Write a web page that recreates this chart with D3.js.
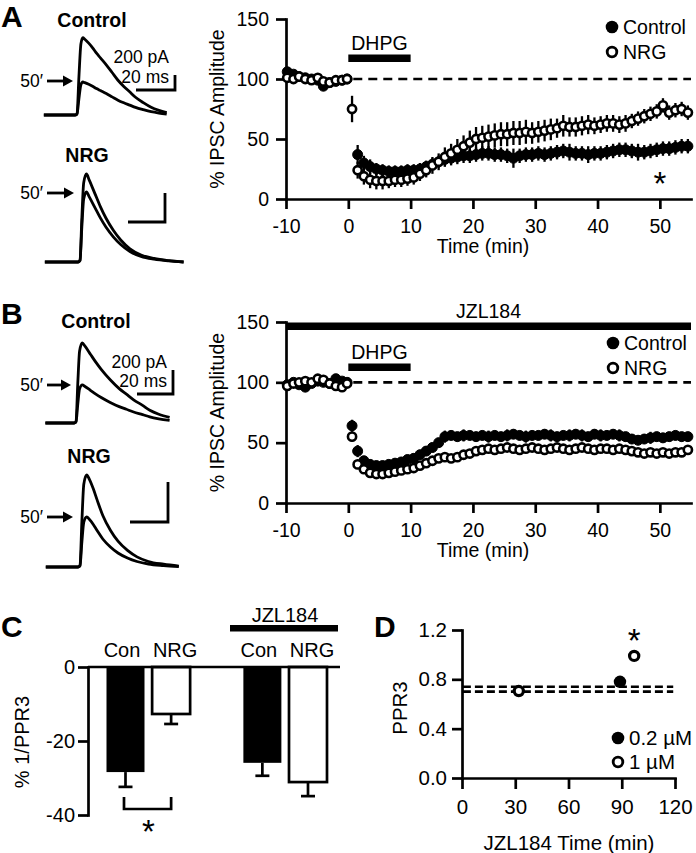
<!DOCTYPE html>
<html><head><meta charset="utf-8">
<script src="https://cdn.jsdelivr.net/npm/d3@7"></script>
<style>
body{margin:0;background:#fff}
svg{display:block;background:#fff}
text{font-family:"Liberation Sans",Arial,Helvetica,sans-serif;fill:#000}
</style>
</head><body>
<svg id="fig" width="696" height="853"></svg>
<script>
// ================= DATA =================
const timeTicks = [-10, 0, 10, 20, 30, 40, 50];
const ampTicks = [0, 50, 100, 150];

const sampleTimes = [-9.8,-8.8,-7.9,-6.9,-5.9,-4.9,-4.0,-3.0,-2.0,-1.0,-0.2,
  0.6,1.5,2.5,3.5,4.5,5.5,6.5,7.5,8.5,9.5,10.5,11.5,12.5,13.5,14.5,15.5,16.5,17.5,18.5,19.5,
  20.5,21.5,22.5,23.5,24.5,25.5,26.5,27.5,28.5,29.5,30.5,31.5,32.5,33.5,34.5,35.5,36.5,37.5,38.5,39.5,
  40.5,41.5,42.5,43.5,44.5,45.5,46.5,47.5,48.5,49.5,50.5,51.5,52.5,53.5,54.5];

// Panel A (% IPSC amplitude)
const ctrlA = [106,104,102,101,100,99,94,97,98,99,100, null,
  37,30,27,25,24,23,23,23,24,24, 25,27,29,31,33,34,35,36,36,37,
  38,38,37,37,36,34,36,37,37,38, 37,38,39,40,39,38,38,37,38,38,
  39,40,41,41,40,39,39,40,41,42, 42,43,44,44];
const ctrlASem = [3,3,2,3,3,3,4,3,3,2,2, null,
  8,6,6,5,5,5,5,5,5,5, 5,5,5,5,6,6,6,6,6,6,
  6,6,6,6,6,8,6,6,6,6, 6,6,6,6,7,6,6,7,6,6,
  6,6,6,6,6,7,6,6,6,6, 6,6,6,6];
const nrgA = [101,100,102,100,99,101,98,97,99,99,100, 75,
  24,19,16,15,15,15,16,16,17,18, 21,24,28,31,35,38,41,44,47,50,
  51,52,53,54,54,55,55,56,55,56, 57,58,59,61,60,60,61,62,61,62,
  63,63,62,63,65,67,69,71,73,78, 72,74,75,72];
const nrgASem = [3,2,3,2,3,3,2,3,2,2,2, 11,
  7,7,7,7,7,6,6,6,6,6, 6,6,7,7,8,8,9,9,10,10,
  10,10,10,10,10,10,10,10,9,9, 9,9,8,9,8,8,8,8,7,7,
  7,7,7,7,6,6,6,6,6,6, 6,6,6,6];

// Panel B (JZL184)
const ctrlB = [98,100,98,96,99,101,100,99,103,101,100, 64,
  43,35,32,31,31,32,33,34,36,37, 40,43,46,50,55,56,55,56,56,55,
  56,55,56,55,56,57,56,55,56,56, 57,56,55,56,56,57,56,55,57,56,
  56,57,56,55,53,52,53,54,55,54, 55,56,55,55];
const ctrlBSem = [3,3,3,3,3,3,3,3,3,3,3, 5,
  5,4,4,4,4,4,4,4,4,4, 4,4,4,4,5,4,4,5,4,4,
  4,5,4,4,5,4,4,5,4,4, 4,5,4,4,5,4,5,4,4,5,
  4,4,5,4,4,4,4,5,4,4, 4,4,4,4];
const nrgB = [97,99,100,101,100,103,102,99,97,96,99, 55,
  32,28,25,24,24,25,26,27,28,29, 31,33,35,37,38,37,38,40,41,43,
  44,45,44,45,46,45,44,45,46,45, 44,45,46,45,44,45,46,45,44,45,
  45,44,45,44,43,42,41,42,41,42, 41,42,42,44];
const nrgBSem = [3,3,3,3,3,3,3,3,3,3,3, 4,
  3,3,3,3,3,3,3,3,3,3, 3,3,3,3,3,3,3,3,3,3,
  3,3,3,3,3,3,3,3,3,3, 3,3,3,3,3,3,3,3,3,3,
  3,3,3,3,3,3,3,3,3,3, 3,3,3,3];

// Example IPSC traces: [ms from onset, fraction of peak]
const shapeACtrl = [[-17,0],[-1,0],[0,0.02],[1,0.5],[2,0.92],[3,1],[4,0.98],[6,0.93],[8,0.87],[10,0.8],[12,0.74],[15,0.65],[18,0.55],[21,0.45],[24,0.37],[27,0.3],[30,0.23],[34,0.16],[38,0.1],[42,0.06],[46,0.03]];
const shapeANrg = [[-19,0],[-1,0],[0,0.02],[1,0.5],[2,0.9],[3.5,1],[5,0.93],[8,0.78],[11,0.63],[14,0.5],[18,0.36],[22,0.25],[27,0.15],[33,0.08],[40,0.04],[48,0.015],[56,0]];
const shapeBCtrl = [[-17,0],[-1,0],[0,0.02],[1,0.5],[2,0.9],[3.5,1],[5,0.96],[8,0.86],[11,0.76],[14,0.67],[19,0.54],[24,0.43],[28,0.36],[32,0.29],[37,0.22],[41,0.16],[46,0.11],[52,0.07]];
const shapeBNrg = [[-18,0],[-1,0],[0,0.02],[1,0.5],[2,0.9],[3.5,1],[5,0.95],[7,0.85],[9,0.73],[12,0.56],[16,0.4],[20,0.28],[25,0.18],[30,0.11],[36,0.06],[44,0.03],[52,0.01]];
const peaksACtrl = [1030, 440];   // pA: baseline, 50'
const peaksANrg = [607, 483];
const peaksBCtrl = [667, 317];
const peaksBNrg = [460, 250];

// Panel C
const catsC = ["Con", "NRG", "Con", "NRG"];
const posC = [0, 1, 3, 4];
const valsC = [-28.4, -12.7, -25.9, -31.1];
const semC = [4.0, 2.7, 3.5, 3.8];
const ticksC = [0, -20, -40];

// Panel D
const ticksDx = [0, 30, 60, 90, 120];
const ticksDy = [0, 0.4, 0.8, 1.2];
const dFilled = [{t: 89, v: 0.78, s: 0.03}];
const dOpen = [{t: 32, v: 0.705, s: 0.02}, {t: 97, v: 0.99, s: 0.03}];
const dBaselines = [0.74, 0.70];

// ================= DRAW =================
const svg = d3.select("#fig");
const F = '"Liberation Sans", Arial, Helvetica, sans-serif';

function styleAxis(sel, fs) {
  sel.attr("font-family", F).attr("font-size", fs);
  sel.select(".domain").attr("stroke", "#000").attr("stroke-width", 2.7).attr("stroke-linecap", "square");
  sel.selectAll(".tick line").attr("stroke", "#000").attr("stroke-width", 2.7);
  sel.selectAll(".tick text").attr("fill", "#000");
}
function txt(x, y, s, fs, opts = {}) {
  const t = svg.append("text").attr("x", x).attr("y", y).text(s)
    .attr("font-size", fs).attr("text-anchor", opts.anchor || "start")
    .attr("font-weight", opts.bold ? "bold" : "normal");
  if (opts.rotate) t.attr("transform", `rotate(-90,${x},${y})`);
  return t;
}
function arrow(x0, x1, y) {
  svg.append("line").attr("x1", x0).attr("x2", x1 - 6).attr("y1", y).attr("y2", y)
    .attr("stroke", "#000").attr("stroke-width", 2.8);
  svg.append("path").attr("d", `M${x1},${y} L${x1 - 10},${y - 5.5} L${x1 - 10},${y + 5.5} Z`).attr("fill", "#000");
}

function drawTimeCourse(P) {
  const g = svg.append("g");
  const x = d3.scaleLinear().domain([-10, 55]).range([286, 691]);
  const y = d3.scaleLinear().domain([0, 150]).range([P.y0, P.y150]);

  if (P.jzl) {
    g.append("rect").attr("x", x(-10)).attr("width", x(55) - x(-10))
      .attr("y", P.jzlY - 3.5).attr("height", 7.5).attr("fill", "#000");
    txt(x(22.5), P.jzlY - 8, "JZL184", 19.5, {anchor: "middle"});
  }
  // DHPG bar
  g.append("rect").attr("x", x(0)).attr("width", x(10) - x(0))
    .attr("y", P.dhpgY - 3.5).attr("height", 7.5).attr("fill", "#000");
  txt(x(5), P.dhpgY - 8, "DHPG", 19.5, {anchor: "middle"});
  // dashed 100 line
  g.append("line").attr("x1", x(0.8)).attr("x2", x(55)).attr("y1", y(100)).attr("y2", y(100))
    .attr("stroke", "#000").attr("stroke-width", 2.6).attr("stroke-dasharray", "9,6");

  const ax = g.append("g").attr("transform", `translate(0,${P.y0})`)
    .call(d3.axisBottom(x).tickValues(timeTicks).tickFormat(d => String(d)).tickSize(10).tickPadding(10).tickSizeOuter(0));
  styleAxis(ax, 19.5);
  const ay = g.append("g").attr("transform", `translate(${x(-10)},0)`)
    .call(d3.axisLeft(y).tickValues(ampTicks).tickFormat(d => String(d)).tickSize(10).tickPadding(7).tickSizeOuter(0));
  styleAxis(ay, 19.5);

  txt(483, P.y0 + 54, "Time (min)", 19.5, {anchor: "middle"});
  txt(224, (P.y0 + P.y150) / 2, "% IPSC Amplitude", 19.5, {anchor: "middle", rotate: true});

  function series(vals, sems, filled) {
    const d = sampleTimes.map((t, i) => ({t, v: vals[i], s: sems[i]})).filter(e => e.v != null);
    g.append("g").selectAll("line").data(d).join("line")
      .attr("x1", e => x(e.t)).attr("x2", e => x(e.t))
      .attr("y1", e => y(e.v - e.s)).attr("y2", e => y(e.v + e.s))
      .attr("stroke", "#000").attr("stroke-width", 2.3);
    g.append("g").selectAll("circle").data(d).join("circle")
      .attr("cx", e => x(e.t)).attr("cy", e => y(e.v))
      .attr("r", filled ? 5 : 4.1)
      .attr("fill", filled ? "#000" : "#fff")
      .attr("stroke", "#000").attr("stroke-width", filled ? 1 : 2.6);
  }
  series(P.ctrl, P.ctrlSem, true);
  series(P.nrg, P.nrgSem, false);

  // legend
  g.append("circle").attr("cx", P.legX).attr("cy", P.legY1).attr("r", 6.3).attr("fill", "#000");
  txt(P.legX + 11, P.legY1 + 7, "Control", 19.5);
  g.append("circle").attr("cx", P.legX).attr("cy", P.legY2).attr("r", 4.8).attr("fill", "#fff")
    .attr("stroke", "#000").attr("stroke-width", 2.8);
  txt(P.legX + 11, P.legY2 + 7, "NRG", 19.5);
  if (P.star) txt(x(P.star[0]), P.star[1], "*", 33, {anchor: "middle"});
}

drawTimeCourse({y0: 199, y150: 19, ctrl: ctrlA, ctrlSem: ctrlASem, nrg: nrgA, nrgSem: nrgASem,
  dhpgY: 58, legX: 612, legY1: 27, legY2: 52, star: [50, 195]});
drawTimeCourse({y0: 503, y150: 322, ctrl: ctrlB, ctrlSem: ctrlBSem, nrg: nrgB, nrgSem: nrgBSem,
  dhpgY: 367, jzl: true, jzlY: 326, legX: 613, legY1: 343, legY2: 368});

// ---- traces ----
function drawTrace(T) {
  const xs = d3.scaleLinear().domain([0, 20]).range([T.onset, T.onset + 20 * T.pxms]);
  const ys = d3.scaleLinear().domain([0, 200]).range([T.base, T.base - 200 * T.pxpa]);
  const line = d3.line().x(d => xs(d[0])).y(d => ys(d[1])).curve(d3.curveMonotoneX);
  T.peaks.forEach(pk => {
    svg.append("path").attr("d", line(T.shape.map(d => [d[0], d[1] * pk])))
      .attr("fill", "none").attr("stroke", "#000").attr("stroke-width", 2.8)
      .attr("stroke-linejoin", "round");
  });
  const bw = xs(20) - xs(0), bh = ys(0) - ys(200);
  svg.append("path").attr("d", `M${T.barX - bw},${T.barY} H${T.barX} V${T.barY - bh}`)
    .attr("fill", "none").attr("stroke", "#000").attr("stroke-width", 2.8);
  if (T.barText) {
    txt(T.barX - 6, T.barText[0], "200 pA", 17.5, {anchor: "end"});
    txt(T.barX - 6, T.barText[1], "20 ms", 17.5, {anchor: "end"});
  }
  txt(T.label[0], T.label[1], T.name, 19.5, {anchor: "middle", bold: true});
  txt(43, T.arrowY + 6, "50′", 17.5, {anchor: "end"});
  arrow(47, T.arrowX, T.arrowY);
}
drawTrace({onset: 77, pxms: 1.95, base: 115, pxpa: 0.075, shape: shapeACtrl, peaks: peaksACtrl,
  barX: 175, barY: 90, barText: [63, 83], name: "Control", label: [92, 27], arrowX: 73, arrowY: 81});
drawTrace({onset: 80, pxms: 1.85, base: 262, pxpa: 0.145, shape: shapeANrg, peaks: peaksANrg,
  barX: 165, barY: 222, name: "NRG", label: [87, 162], arrowX: 74, arrowY: 193});
drawTrace({onset: 76, pxms: 1.8, base: 423, pxpa: 0.12, shape: shapeBCtrl, peaks: peaksBCtrl,
  barX: 173, barY: 394, barText: [368, 387], name: "Control", label: [96, 328], arrowX: 71, arrowY: 385});
drawTrace({onset: 80, pxms: 1.9, base: 567, pxpa: 0.2, shape: shapeBNrg, peaks: peaksBNrg,
  barX: 168, barY: 522, name: "NRG", label: [89, 463], arrowX: 73, arrowY: 517});

// ---- Panel C ----
{
  const yC = d3.scaleLinear().domain([-40, 0]).range([815, 667]);
  const xC = d3.scaleLinear().domain([0, 4]).range([125.5, 308]);
  const bw = 38;
  const g = svg.append("g");
  posC.forEach((p, i) => {
    const cx = xC(p), y1 = yC(valsC[i]), y2 = yC(valsC[i] - semC[i]);
    g.append("line").attr("x1", cx).attr("x2", cx).attr("y1", y1).attr("y2", y2).attr("stroke", "#000").attr("stroke-width", 2.7);
    g.append("line").attr("x1", cx - 7).attr("x2", cx + 7).attr("y1", y2).attr("y2", y2).attr("stroke", "#000").attr("stroke-width", 2.7);
  });
  g.selectAll("rect.bar").data(posC).join("rect").attr("class", "bar")
    .attr("x", p => xC(p) - bw / 2).attr("width", bw)
    .attr("y", yC(0)).attr("height", (p, i) => yC(valsC[i]) - yC(0))
    .attr("fill", (p, i) => i % 2 === 0 ? "#000" : "#fff")
    .attr("stroke", "#000").attr("stroke-width", (p, i) => i % 2 === 0 ? 0 : 2.7);
  g.append("line").attr("x1", 88).attr("x2", 340).attr("y1", yC(0)).attr("y2", yC(0)).attr("stroke", "#000").attr("stroke-width", 2.7);
  const ay = g.append("g").attr("transform", "translate(88,0)")
    .call(d3.axisLeft(yC).tickValues(ticksC).tickFormat(d => String(d)).tickSize(10).tickPadding(3).tickSizeOuter(0));
  styleAxis(ay, 20);
  posC.forEach((p, i) => txt(xC(p) + (i % 2 === 0 ? -3.5 : 4), 657, catsC[i], 20, {anchor: "middle"}));
  g.append("rect").attr("x", 230).attr("width", 108).attr("y", 625).attr("height", 6.5).attr("fill", "#000");
  txt(285, 622, "JZL184", 20, {anchor: "middle"});
  g.append("path").attr("d", `M${xC(0) - 1.5},797 V809 H${xC(1)} V797`).attr("fill", "none").attr("stroke", "#000").attr("stroke-width", 2.7);
  txt((xC(0) + xC(1)) / 2, 843, "*", 33, {anchor: "middle"});
  txt(29, 742, "% 1/PPR3", 20, {anchor: "middle", rotate: true});
}

// ---- Panel D ----
{
  const xD = d3.scaleLinear().domain([0, 120]).range([462, 675]);
  const yD = d3.scaleLinear().domain([0, 1.2]).range([778, 630]);
  const g = svg.append("g");
  dBaselines.forEach(b => g.append("line").attr("x1", xD(0.5)).attr("x2", xD(119)).attr("y1", yD(b)).attr("y2", yD(b))
    .attr("stroke", "#000").attr("stroke-width", 2.7).attr("stroke-dasharray", "8,4"));
  const ax = g.append("g").attr("transform", `translate(0,${yD(0)})`)
    .call(d3.axisBottom(xD).tickValues(ticksDx).tickSize(11).tickPadding(10).tickSizeOuter(0));
  styleAxis(ax, 20.5);
  const ay = g.append("g").attr("transform", `translate(${xD(0)},0)`)
    .call(d3.axisLeft(yD).tickValues(ticksDy).tickFormat(d3.format(".1f")).tickSize(10).tickPadding(5).tickSizeOuter(0));
  styleAxis(ay, 20.5);
  [...dFilled, ...dOpen].forEach(d => g.append("line").attr("x1", xD(d.t)).attr("x2", xD(d.t))
    .attr("y1", yD(d.v - d.s)).attr("y2", yD(d.v + d.s)).attr("stroke", "#000").attr("stroke-width", 2.7));
  g.selectAll("circle.f").data(dFilled).join("circle").attr("class", "f")
    .attr("cx", d => xD(d.t)).attr("cy", d => yD(d.v)).attr("r", 6.2).attr("fill", "#000");
  g.selectAll("circle.o").data(dOpen).join("circle").attr("class", "o")
    .attr("cx", d => xD(d.t)).attr("cy", d => yD(d.v)).attr("r", 4.6).attr("fill", "#fff")
    .attr("stroke", "#000").attr("stroke-width", 3.2);
  txt(xD(97), 652, "*", 33, {anchor: "middle"});
  g.append("circle").attr("cx", 618).attr("cy", 738).attr("r", 6.3).attr("fill", "#000");
  txt(629, 745, "0.2 µM", 20.5);
  g.append("circle").attr("cx", 618).attr("cy", 762).attr("r", 4.8).attr("fill", "#fff").attr("stroke", "#000").attr("stroke-width", 2.8);
  txt(629, 769, "1 µM", 20.5);
  txt(569, 850, "JZL184 Time (min)", 20.5, {anchor: "middle"});
  txt(407, 708, "PPR3", 20.5, {anchor: "middle", rotate: true});
}

// panel letters
txt(1, 27, "A", 30, {bold: true});
txt(1, 324, "B", 30, {bold: true});
txt(1, 637, "C", 30, {bold: true});
txt(374, 637, "D", 30, {bold: true});
</script>
</body></html>
